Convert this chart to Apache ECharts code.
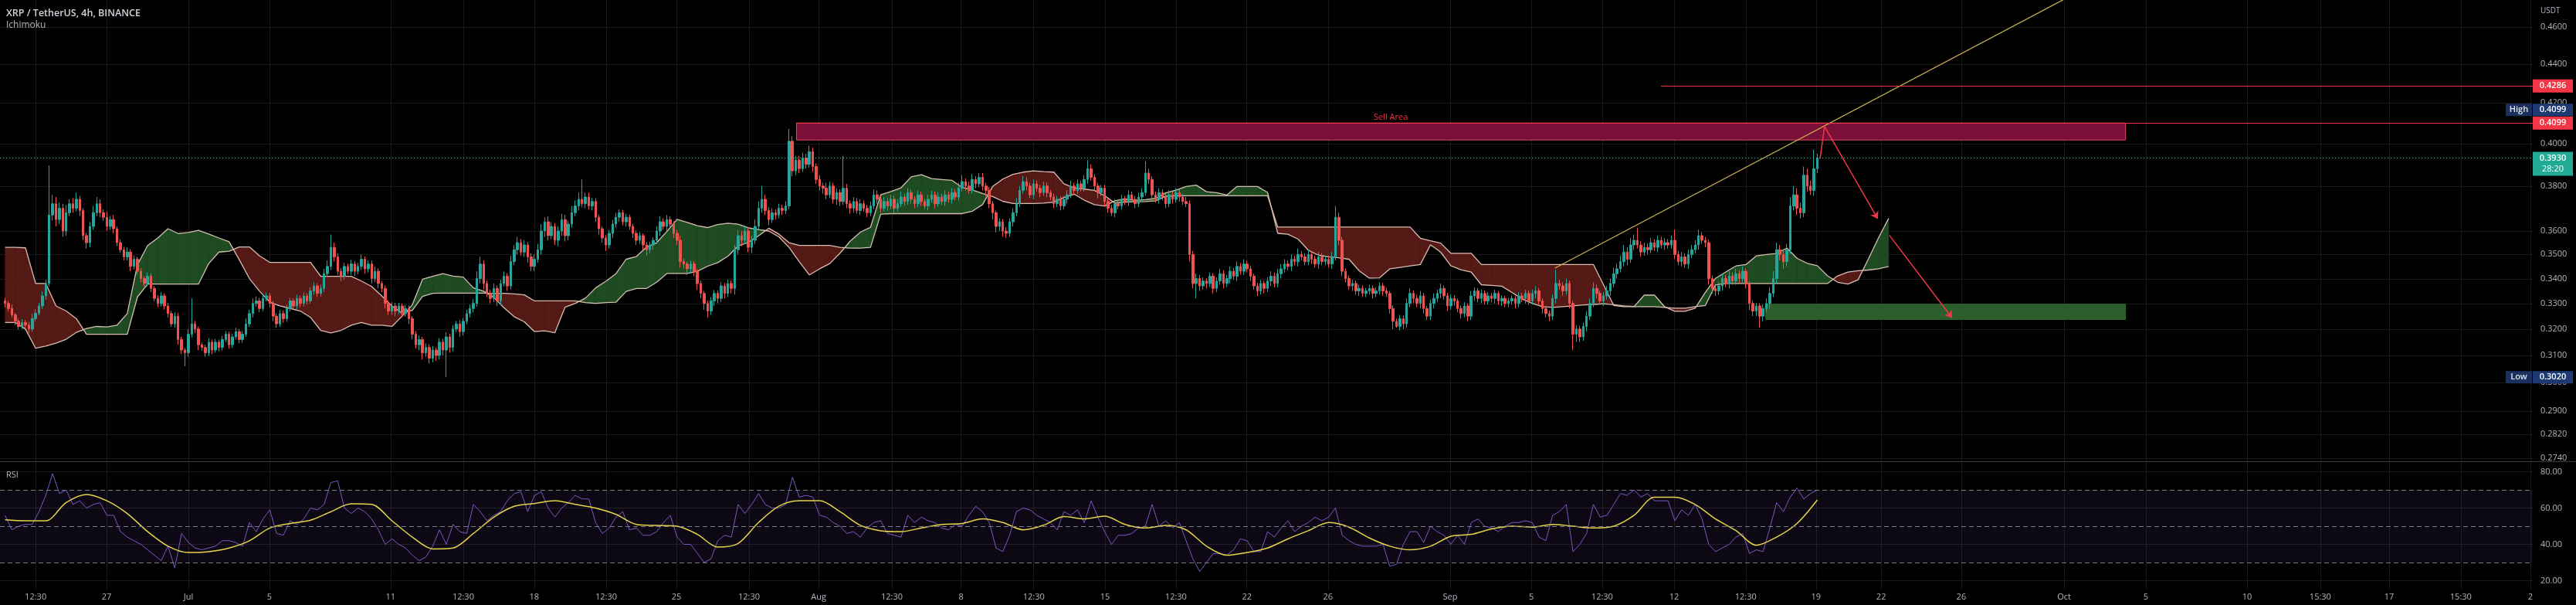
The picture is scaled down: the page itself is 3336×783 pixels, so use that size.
<!DOCTYPE html>
<html><head><meta charset="utf-8">
<script src="https://cdn.jsdelivr.net/npm/echarts@6/dist/echarts.min.js"></script>
<style>html,body{margin:0;padding:0;background:#000;}#c{width:3336px;height:783px;}</style>
</head><body><div id="c"></div>
<script>
// ===== DATA (prices in 1e-4 USDT) =====
// 4h candles, index 0 = Jun 22 00:00, last = Sep 19 00:00
const firstOpen = 3310;
const closes = [
3300,3280,3255,3230,3210,3225, 3215,3200,3240,3262,3290,3330, 3380,3670,3720,3650,3700,3600,
3680,3720,3700,3740,3690,3580, 3550,3620,3680,3720,3680,3660, 3620,3650,3610,3550,3520,3490,
3510,3450,3480,3430,3400,3380, 3410,3360,3320,3300,3330,3290, 3260,3220,3250,3160,3120,3110,
3180,3220,3200,3140,3130,3110, 3150,3120,3150,3130,3160,3180, 3140,3170,3190,3160,3180,3220,
3260,3300,3310,3280,3320,3330, 3300,3250,3220,3260,3240,3280, 3310,3290,3320,3300,3330,3310,
3350,3370,3340,3360,3420,3450, 3530,3490,3430,3410,3450,3430, 3460,3430,3450,3480,3440,3460,
3400,3430,3380,3360,3300,3270, 3290,3270,3290,3260,3280,3240, 3180,3140,3160,3110,3130,3090,
3120,3100,3150,3120,3170,3130, 3200,3220,3190,3230,3260,3280, 3300,3400,3460,3380,3340,3320,
3360,3310,3380,3410,3370,3470, 3520,3550,3510,3540,3490,3450, 3480,3520,3600,3640,3580,3620,
3560,3600,3650,3580,3630,3680, 3710,3740,3720,3750,3710,3730, 3660,3610,3570,3540,3590,3630,
3660,3680,3640,3660,3620,3590, 3560,3580,3540,3520,3540,3560, 3600,3640,3620,3650,3630,3590,
3560,3470,3460,3440,3460,3430, 3380,3340,3300,3270,3310,3340, 3320,3370,3340,3380,3360,3520,
3580,3560,3600,3530,3560,3620, 3700,3740,3690,3650,3680,3670, 3700,3690,3710,4010,3870,3920,
3880,3930,3900,3960,3890,3830, 3800,3790,3760,3800,3740,3770, 3730,3790,3720,3700,3730,3690,
3720,3700,3680,3710,3760,3740, 3700,3730,3710,3740,3700,3720, 3750,3730,3770,3740,3720,3760,
3730,3710,3740,3760,3720,3750, 3730,3760,3740,3770,3750,3790, 3820,3800,3780,3830,3810,3840,
3800,3780,3720,3680,3620,3640, 3600,3590,3640,3680,3720,3780, 3820,3800,3760,3810,3790,3770,
3800,3770,3750,3720,3740,3710, 3740,3760,3800,3780,3810,3790, 3830,3880,3840,3800,3770,3790,
3730,3700,3680,3720,3710,3740, 3730,3760,3740,3720,3750,3770, 3860,3830,3760,3740,3770,3750,
3720,3760,3740,3770,3750,3730, 3720,3500,3380,3400,3370,3390, 3380,3410,3360,3390,3420,3380,
3400,3430,3410,3450,3430,3460, 3440,3410,3370,3350,3380,3360, 3390,3410,3380,3420,3440,3460,
3450,3480,3470,3500,3490,3470, 3500,3480,3460,3490,3470,3480, 3460,3490,3660,3560,3430,3400,
3370,3380,3350,3360,3340,3350, 3360,3340,3350,3370,3350,3340, 3280,3230,3210,3240,3220,3300,
3340,3320,3300,3330,3280,3250, 3300,3320,3340,3360,3330,3290, 3320,3310,3280,3260,3290,3250,
3330,3350,3320,3340,3310,3330, 3320,3340,3310,3320,3300,3310, 3320,3300,3330,3320,3340,3310,
3340,3350,3310,3280,3260,3250, 3320,3380,3370,3350,3380,3300, 3180,3200,3170,3210,3250,3300,
3360,3340,3310,3330,3350,3380, 3420,3440,3470,3510,3480,3540, 3560,3540,3510,3530,3520,3550,
3530,3560,3540,3550,3540,3560, 3500,3470,3490,3460,3500,3520, 3540,3580,3560,3550,3400,3360,
3350,3370,3400,3380,3410,3390, 3420,3400,3430,3380,3300,3270, 3290,3250,3280,3300,3340,3400,
3520,3500,3470,3520,3710,3760, 3700,3680,3850,3800,3780,3880, 3930
];
const wickUp = [
12,10,15,8,10,14, 10,12,20,15,12,18, 15,225,40,30,25,20, 35,20,25,30,15,10, 12,20,30,30,20,15,
25,15,20,10,15,12, 20,12,15,10,12,10, 15,12,10,12,15,10, 12,10,15,12,10,8, 20,100,12,10,8,10,
15,10,12,10,14,12, 10,12,15,10,12,20, 15,20,18,12,15,14, 12,10,10,15,12,15, 12,10,15,12,14,10,
15,14,10,15,20,25, 55,20,15,12,15,12, 18,12,15,20,12,15, 15,20,12,10,12,10, 15,12,12,10,15,12,
10,12,15,10,15,12, 15,10,15,12,18,12, 15,12,14,12,15,15, 18,30,30,15,12,15, 20,12,15,20,12,25,
20,25,15,20,12,15, 20,25,30,20,25,20, 15,20,25,20,15,30, 25,30,90,20,20,15, 15,12,10,12,15,18,
20,15,12,15,12,10, 12,15,10,12,14,12, 20,25,15,20,15,12, 15,20,12,10,14,12, 10,12,10,12,15,14,
12,15,12,15,12,20, 25,20,25,15,20,30, 30,60,20,15,20,15, 20,15,20,60,25,20, 20,25,20,29,20,15,
20,15,25,20,15,20, 15,150,20,15,20,15, 20,15,15,20,25,20, 15,20,15,20,15,20, 25,15,20,15,15,20,
15,12,20,20,15,20, 15,20,15,20,15,25, 30,15,20,25,15,20, 20,15,15,12,10,15, 12,15,15,20,25,20,
25,20,15,20,15,15, 20,15,12,15,15,12, 15,20,25,15,20,15, 20,40,20,15,12,15, 15,12,15,20,15,20,
15,20,15,15,20,20, 55,20,15,15,20,15, 15,20,15,20,15,15, 20,15,15,20,15,15, 12,15,12,15,20,15,
15,20,15,20,15,20, 15,12,10,12,15,12, 15,20,15,20,20,20, 15,20,15,25,15,15, 20,15,15,20,15,15,
15,20,50,20,15,12, 12,15,12,15,12,12, 15,12,15,15,12,12, 10,12,10,15,12,20, 20,12,15,20,12,10,
15,20,15,20,12,12, 15,12,10,12,15,10, 20,15,12,15,12,15, 12,15,10,12,10,12, 12,10,15,12,15,12,
15,20,12,10,10,12, 15,56,15,15,20,12, 10,15,12,15,20,20, 25,15,12,15,20,20, 25,20,25,30,20,30,
25,55,15,20,15,20, 15,20,15,20,15,20, 46,15,20,15,20,20, 20,26,15,15,12,12, 12,15,20,15,20,15,
20,15,20,12,10,10, 12,10,15,20,25,30, 30,20,20,25,40,40, 30,25,40,30,25,90, 20
];
const wickDown = [
15,12,10,15,12,10, 12,15,10,12,10,12, 15,12,25,30,20,25, 20,15,20,15,25,20, 25,20,15,15,20,15,
20,15,20,15,12,15, 15,20,12,15,15,12, 12,15,12,15,12,15, 15,12,15,20,15,50, 15,12,15,20,12,15,
12,15,10,15,12,10, 15,12,10,15,12,10, 12,15,12,15,10,12, 15,20,15,12,15,12, 12,15,12,15,12,15,
12,15,15,12,15,12, 15,20,15,20,15,12, 15,20,12,15,20,15, 20,15,20,15,20,15, 15,20,12,15,12,20,
20,15,20,25,15,20, 15,20,15,20,100,20, 15,12,20,15,12,15, 15,12,20,25,15,20, 15,20,15,12,20,15,
15,20,15,20,25,20, 20,15,20,25,20,15, 20,25,20,25,20,15, 15,20,15,20,15,20, 20,25,20,25,15,20,
15,20,15,20,15,20, 20,15,20,25,15,20, 15,20,15,20,15,20, 20,25,20,25,20,20, 25,20,25,25,15,20,
20,15,20,15,20,25, 20,25,15,20,25,15, 15,20,20,25,15,20, 15,20,15,15,25,20, 20,15,20,15,25,20,
20,25,20,15,20,25, 20,15,20,25,20,15, 20,15,20,15,15,20, 20,15,20,15,20,15, 15,20,15,20,20,15,
20,15,20,15,20,15, 15,20,15,20,15,15, 15,20,15,15,20,15, 20,25,20,30,25,20, 25,20,15,20,15,15,
15,20,15,20,15,20, 15,20,15,20,15,20, 15,20,15,20,15,15, 15,20,15,20,25,15, 25,20,15,20,15,15,
15,20,15,20,15,15, 15,20,25,15,20,15, 20,15,20,15,20,15, 15,30,20,60,20,15, 20,15,20,15,15,20,
15,20,15,20,15,15, 15,20,15,20,15,20, 15,20,15,15,20,15, 15,20,15,20,15,15, 15,20,15,20,15,15,
15,20,15,20,20,15, 15,20,15,20,15,15, 15,20,15,15,20,15, 20,30,5,15,20,15, 15,20,15,20,20,15,
15,20,15,20,15,20, 15,20,15,20,15,20, 15,20,15,20,15,15, 15,20,15,20,15,15, 15,20,15,15,20,15,
15,20,15,20,15,20, 15,20,15,20,15,20, 60,30,20,15,20,15, 15,20,15,20,15,20, 15,20,15,20,25,15,
20,15,20,15,20,15, 15,20,15,20,15,15, 20,15,20,15,20,15, 15,20,15,20,25,20, 20,15,20,15,20,15,
15,20,15,20,25,20, 20,45,20,15,20,15, 20,25,30,20,20,20, 30,25,20,25,20,25, 20
];
// Ichimoku leading spans, one value every 3 candles (index 0,3,6,...)
const cloudStep = 3;
const spanA = [
3225,3225,3200,3127,3135,3146,3161,3187,3202,3210, 3208,3215,3260,3457,3538,3570,3610,3589,3594,3603,
3587,3570,3554,3478,3400,3349,3305,3290,3280,3270, 3245,3195,3185,3195,3215,3225,3215,3215,3210,3250,
3295,3397,3409,3420,3410,3406,3362,3349,3324,3283, 3248,3228,3190,3193,3186,3285,3300,3321,3362,3389,
3420,3480,3491,3531,3550,3598,3651,3637,3623,3615, 3628,3634,3630,3614,3606,3600,3575,3530,3470,3415,
3440,3462,3505,3556,3595,3616,3760,3775,3792,3842, 3852,3834,3830,3826,3794,3782,3766,3752,3731,3721,
3721,3721,3723,3727,3748,3763,3736,3716,3710,3733, 3742,3735,3738,3744,3769,3781,3798,3804,3774,3770,
3759,3798,3798,3798,3771,3590,3586,3565,3518,3497, 3490,3486,3480,3432,3402,3403,3440,3446,3452,3458,
3541,3510,3453,3436,3427,3375,3372,3369,3344,3318, 3300,3287,3284,3287,3290,3294,3296,3299,3295,3290,
3288,3333,3333,3287,3269,3269,3281,3344,3401,3427, 3452,3458,3494,3500,3504,3527,3484,3463,3453,3411,
3385,3378,3395,3480,3570,3655
];
const spanB = [
3530,3530,3528,3380,3380,3290,3270,3240,3180,3180, 3180,3180,3180,3326,3378,3378,3378,3378,3378,3378,
3462,3510,3514,3532,3532,3494,3467,3467,3467,3467, 3467,3409,3409,3409,3409,3390,3368,3330,3290,3262,
3273,3328,3340,3341,3341,3341,3341,3341,3340,3340, 3338,3334,3310,3310,3310,3310,3310,3303,3300,3303,
3305,3348,3360,3360,3385,3421,3421,3421,3430,3451, 3466,3493,3536,3551,3579,3612,3587,3550,3538,3538,
3538,3538,3530,3527,3527,3530,3674,3676,3676,3676, 3676,3676,3676,3676,3676,3687,3716,3798,3832,3854,
3864,3870,3866,3864,3810,3792,3786,3780,3756,3723, 3727,3729,3730,3733,3753,3756,3756,3756,3756,3756,
3756,3756,3756,3756,3756,3617,3617,3617,3617,3617, 3617,3617,3617,3617,3617,3617,3617,3617,3617,3569,
3558,3548,3505,3505,3505,3458,3458,3458,3458,3458, 3458,3458,3458,3458,3458,3458,3458,3374,3292,3287,
3287,3287,3287,3284,3281,3281,3287,3292,3374,3380, 3380,3380,3380,3380,3380,3380,3380,3380,3380,3380,
3411,3427,3432,3435,3440,3450
];
// RSI, one value every 2 candles; RSI moving average, one value every 6 candles
const rsiStep = 2, maStep = 6;
const rsi = [
56,48,50,51,51,58,67,79,68,70, 62,64,60,62,63,56,56,47,44,42, 40,37,34,31,39,27,46,41,38,37,
38,39,42,42,41,39,52,47,54,59, 46,45,53,51,54,60,59,62,74,75, 60,57,60,58,54,48,40,43,40,38,
34,31,33,39,48,40,51,47,46,62, 58,53,56,58,64,68,69,58,67,69, 60,55,60,63,67,65,65,52,46,49,
55,58,48,49,45,45,47,52,56,44, 40,40,35,30,32,42,45,44,62,57, 62,68,62,60,60,62,77,66,67,66,
56,55,52,50,46,47,44,49,52,53, 46,45,44,56,52,55,53,52,49,48, 51,50,56,61,58,52,38,36,45,58,
60,59,56,54,52,48,58,56,59,52, 64,55,47,40,45,45,46,49,50,62, 50,53,49,52,42,32,25,30,35,35,
34,37,43,42,36,36,47,44,49,53, 47,50,52,55,53,55,60,45,42,40, 39,39,39,40,28,29,40,47,47,41,
50,47,45,40,45,40,52,54,50,49, 47,50,52,52,53,52,44,42,56,58, 62,36,40,46,62,55,56,62,68,67,
70,66,68,64,64,64,53,59,56,62, 54,40,36,38,40,44,46,35,37,36, 49,63,58,66,71,65,68,70
];
const rsiMA = [
53.5,53,53,63,67.5,64,57,47,39,35.5, 36,38,42,49,51.5,53.3,58,62.3,62,53,
44,37.5,38,46,55,61,62.5,64,62,60, 56.5,51,50.4,50,45.5,38.5,40.5,52,61,64,
64,58,50.5,47.5,47,49,51,51.5,54,52, 48,50.5,55.3,54,55.5,51,49,50.4,48,39,
34,35.5,38,43,47.5,52,49.5,43.5,39,37, 39,44.5,45.5,48.5,50,49.5,51,50,49,50,
56,66,66,62,54,47.6,39.5,44,51.5,64.5
];
// axis tick labels
const priceTicks = [0.46,0.44,0.42,0.40,0.38,0.36,0.35,0.34,0.33,0.32,0.31,0.30,0.29,0.282,0.274];
const rsiTicks = [20,40,60,80];
const timeLabels = [[9.0,'12:30'],[29.9,'27'],[54,'Jul'],[77.9,'5'],[113.6,'11'],[135,'12:30'],[155.9,'18'],
[177.1,'12:30'],[197.8,'25'],[219.2,'12:30'],[239.7,'Aug'],[261.3,'12:30'],[281.7,'8'],[303.1,'12:30'],[324.1,'15'],
[345,'12:30'],[365.9,'22'],[389.8,'26'],[425.8,'Sep'],[449.7,'5'],[470.6,'12:30'],[491.8,'12'],[512.9,'12:30'],
[533.6,'19'],[552.8,'22'],[576.4,'26'],[606.7,'Oct'],[630.8,'5'],[660.6,'10'],[682.2,'15:30'],[702.5,'17'],
[723.6,'15:30'],[744.1,'2']];
// drawings (candle index, price)
const sellArea = [[233.2,0.4099],[624.8,0.4016]];
const buyArea = [[518.8,0.3297],[624.8,0.3237]];
const resistance1 = [[487.9,0.4286],[744.8,0.4286]];
const resistance2 = [[233.2,0.4099],[744.8,0.4099]];
const lastPrice = 0.3930, lastCountdown = '28:20';
const highValue = 0.4099, lowValue = 0.3020;
const trendLine = [[456.7,0.3443],[620,0.4894]];
const arrowStroke = [[534.8,0.3926],[536.1,0.4082]];
const arrowHeads = [[[536.1,0.4082],[551.8,0.3653]],[[555.2,0.3582],[573.7,0.3243]]];
const sellLabelAt = [408.3,0.4128];

// ===== BUILD =====
const FONT = '"Open Sans","Liberation Sans",sans-serif';
const candles = closes.map((c,i)=>{
  const o = i===0 ? firstOpen : closes[i-1];
  const hi = Math.max(o,c)+wickUp[i], lo = Math.min(o,c)-wickDown[i];
  return [i, o/1e4, c/1e4, lo/1e4, hi/1e4];
});
const cloudSeg = [];
for (let k=0;k<spanA.length-1;k++){
  cloudSeg.push([k*cloudStep, spanA[k]/1e4, spanB[k]/1e4, (k+1)*cloudStep, spanA[k+1]/1e4, spanB[k+1]/1e4]);
}
const GREEN='#1f4b22', RED='#561a16';
function cloudItem(params, api){
  const x0=api.value(0),a0=api.value(1),b0=api.value(2),x1=api.value(3),a1=api.value(4),b1=api.value(5);
  const pa0=api.coord([x0,a0]),pb0=api.coord([x0,b0]),pa1=api.coord([x1,a1]),pb1=api.coord([x1,b1]);
  const d0=a0-b0,d1=a1-b1;
  if (d0*d1>=0){
    const col=(d0+d1)>=0?GREEN:RED;
    return {type:'polygon',shape:{points:[pa0,pa1,pb1,pb0]},style:{fill:col,stroke:col,lineWidth:0.6}};
  }
  const e0=pa0[1]-pb0[1], e1=pa1[1]-pb1[1];
  const t=e0/(e0-e1);
  const c=[pa0[0]+(pa1[0]-pa0[0])*t, pa0[1]+(pa1[1]-pa0[1])*t];
  const c0=d0>0?GREEN:RED, c1=d1>0?GREEN:RED;
  return {type:'group',children:[
    {type:'polygon',shape:{points:[pa0,c,pb0]},style:{fill:c0,stroke:c0,lineWidth:0.6}},
    {type:'polygon',shape:{points:[c,pa1,pb1]},style:{fill:c1,stroke:c1,lineWidth:0.6}}
  ]};
}
const tickVals = timeLabels.map(t=>t[0]);
const fmtTime = v => { const t = timeLabels.find(t=>Math.abs(t[0]-v)<1e-6); return t?t[1]:''; };

const chart = echarts.init(document.getElementById('c'), null, {renderer:'canvas', width:3336, height:783});
const option = {
  backgroundColor:'#000000',
  animation:false,
  textStyle:{fontFamily:FONT},
  grid:[{left:0,right:56,top:0,height:597},{left:0,right:56,top:597.6,height:165.65}],
  xAxis:[
    {type:'value',gridIndex:0,min:-1.5,max:744.8,axisLine:{show:false},axisLabel:{show:false},
     axisTick:{show:false,customValues:tickVals},splitLine:{show:true,lineStyle:{color:'#191919',width:1}}},
    {type:'value',gridIndex:1,min:-1.5,max:744.8,axisLine:{show:false},
     axisTick:{show:false,customValues:tickVals},
     axisLabel:{show:true,customValues:tickVals,formatter:fmtTime,color:'#b2b5be',fontSize:11,margin:4,fontFamily:FONT},
     splitLine:{show:true,lineStyle:{color:'#191919',width:1}}}
  ],
  yAxis:[
    {type:'log',gridIndex:0,logBase:10,min:0.27298,max:0.47519,axisLine:{show:false},axisTick:{show:false},
     axisLabel:{show:false},splitLine:{show:false}},
    {type:'value',gridIndex:1,min:15,max:85.5,position:'right',axisLine:{show:false},
     axisTick:{show:false,customValues:rsiTicks},
     axisLabel:{customValues:rsiTicks,formatter:v=>v.toFixed(2),color:'#b2b5be',fontSize:11,margin:10,fontFamily:FONT},
     splitLine:{show:true,lineStyle:{color:'#191919',width:1}}}
  ],
  series:[
    {type:'custom',name:'cloud',xAxisIndex:0,yAxisIndex:0,renderItem:cloudItem,data:cloudSeg,
     encode:{x:[0,3],y:[1,2,4,5]},z:1,silent:true,clip:true},
    {type:'line',name:'lead1',xAxisIndex:0,yAxisIndex:0,data:spanA.map((v,k)=>[k*cloudStep,v/1e4]),
     showSymbol:false,symbol:'none',lineStyle:{color:'#d6beb2',width:1.3},z:2,silent:true},
    {type:'line',name:'lead2',xAxisIndex:0,yAxisIndex:0,data:spanB.map((v,k)=>[k*cloudStep,v/1e4]),
     showSymbol:false,symbol:'none',lineStyle:{color:'#d6beb2',width:1.3},z:2,silent:true},
    {type:'candlestick',name:'XRPUSDT',xAxisIndex:0,yAxisIndex:0,data:candles,barWidth:3,z:3,silent:true,
     itemStyle:{color:'#26a69a',color0:'#ef5350',borderColor:'#26a69a',borderColor0:'#ef5350',borderWidth:1}},
    {type:'line',name:'trend',xAxisIndex:0,yAxisIndex:0,data:trendLine,showSymbol:false,symbol:'none',
     lineStyle:{color:'#c9b150',width:1.3},z:4,silent:true,
     markArea:{silent:true,data:[
       [{coord:sellArea[0],itemStyle:{color:'#7a1038',borderColor:'#d0485f',borderWidth:1}},{coord:sellArea[1]}],
       [{coord:buyArea[0],itemStyle:{color:'#2a5e2c',borderColor:'#2f6a31',borderWidth:1}},{coord:buyArea[1]}]
     ]},
     markLine:{silent:true,symbol:['none','none'],label:{show:false},data:[
       [{coord:resistance1[0],lineStyle:{color:'#f23645',width:1,type:'solid'}},{coord:resistance1[1]}],
       [{coord:resistance2[0],lineStyle:{color:'#f23645',width:1,type:'solid'}},{coord:resistance2[1]}],
       [{coord:[-1.5,lastPrice],lineStyle:{color:'#5fbcab',width:1,type:[1,3]}},{coord:[744.8,lastPrice]}]
     ]}},
    {type:'lines',coordinateSystem:'cartesian2d',xAxisIndex:0,yAxisIndex:0,symbol:['none','none'],
     lineStyle:{color:'#f23645',width:1.5,opacity:1},data:[{coords:arrowStroke}],z:5,silent:true},
    {type:'lines',coordinateSystem:'cartesian2d',xAxisIndex:0,yAxisIndex:0,symbol:['none','arrow'],symbolSize:9,
     lineStyle:{color:'#f23645',width:1.5,opacity:1},data:arrowHeads.map(a=>({coords:a})),z:5,silent:true},
    {type:'line',name:'RSI',xAxisIndex:1,yAxisIndex:1,data:rsi.map((v,k)=>[k*rsiStep,v]),showSymbol:false,symbol:'none',
     lineStyle:{color:'#7e57c2',width:1},z:3,silent:true,
     markArea:{silent:true,itemStyle:{color:'rgba(126,87,194,0.1)'},data:[[{yAxis:30},{yAxis:70}]]},
     markLine:{silent:true,symbol:['none','none'],label:{show:false},lineStyle:{color:'#787b86',width:1,type:[6,4]},
       data:[{yAxis:70},{yAxis:50},{yAxis:30}]}},
    {type:'line',name:'RSI MA',xAxisIndex:1,yAxisIndex:1,data:rsiMA.map((v,k)=>[k*maStep,v]),showSymbol:false,symbol:'none',
     smooth:0.3,lineStyle:{color:'#e6d44a',width:1.5},z:4,silent:true}
  ]
};
chart.setOption(option);

// ===== overlay texts / price scale tags (positions from the chart's own scales) =====
const X = v => chart.convertToPixel({xAxisIndex:0}, v);
const Y = v => chart.convertToPixel({yAxisIndex:0}, v);
const g = [];
priceTicks.forEach(p=>{
  const y = Math.round(Y(p))+0.5;
  g.push({type:'line',silent:true,z:0,shape:{x1:0,y1:y,x2:3280,y2:y},style:{stroke:'#191919',lineWidth:1}});
  g.push({type:'text',silent:true,z:50,x:3290,y:Y(p),style:{text:p.toFixed(4),fill:'#b2b5be',font:'11px '+FONT,verticalAlign:'middle',align:'left'}});
});
function tag(x,w,yc,h,bg,txt,color){
  g.push({type:'rect',silent:true,z:60,shape:{x:x,y:yc-h/2,width:w,height:h},style:{fill:bg}});
  g.push({type:'text',silent:true,z:61,x:x+w/2,y:yc,style:{text:txt,fill:color||'#ffffff',font:'600 11px '+FONT,align:'center',verticalAlign:'middle'}});
}
tag(3280,52,Y(resistance1[0][1]),17,'#f23645',resistance1[0][1].toFixed(4));
tag(3280,52,Y(resistance2[0][1]),17,'#f23645',resistance2[0][1].toFixed(4));
const hy = Y(highValue)-17;
tag(3245,34,hy,16,'#1b305e','High','#e0e3eb');
tag(3280,52,hy,16,'#1e3a72',highValue.toFixed(4));
const ly = Y(lowValue);
tag(3245,34,ly,16,'#1b305e','Low','#e0e3eb');
tag(3280,52,ly,16,'#1e3a72',lowValue.toFixed(4));
const cy = Y(lastPrice);
g.push({type:'rect',silent:true,z:60,shape:{x:3280,y:cy-8,width:52,height:31},style:{fill:'#22ab94'}});
g.push({type:'text',silent:true,z:61,x:3306,y:cy,style:{text:lastPrice.toFixed(4),fill:'#ffffff',font:'600 11px '+FONT,align:'center',verticalAlign:'middle'}});
g.push({type:'text',silent:true,z:61,x:3306,y:cy+14,style:{text:lastCountdown,fill:'#ffffff',font:'11px '+FONT,align:'center',verticalAlign:'middle'}});
g.push({type:'text',silent:true,z:50,x:3290,y:14,style:{text:'USDT',fill:'#b2b5be',font:'10px '+FONT,verticalAlign:'middle'}});
g.push({type:'line',silent:true,z:50,shape:{x1:0,y1:597.5,x2:3336,y2:597.5},style:{stroke:'#3a3a3a',lineWidth:1}});
g.push({type:'text',silent:true,z:50,x:8,y:17,style:{text:'XRP / TetherUS, 4h, BINANCE',fill:'#d1d4dc',font:'600 12.5px '+FONT,verticalAlign:'middle'}});
g.push({type:'text',silent:true,z:50,x:8,y:33,style:{text:'Ichimoku',fill:'#b2b5be',font:'12px '+FONT,verticalAlign:'middle'}});
g.push({type:'text',silent:true,z:50,x:8,y:615,style:{text:'RSI',fill:'#b2b5be',font:'11px '+FONT,verticalAlign:'middle'}});
g.push({type:'text',silent:true,z:50,x:X(sellLabelAt[0]),y:Y(sellLabelAt[1]),style:{text:'Sell Area',fill:'#f23645',font:'11px '+FONT,align:'center',verticalAlign:'middle'}});
chart.setOption({graphic:g});
</script>
</body></html>
